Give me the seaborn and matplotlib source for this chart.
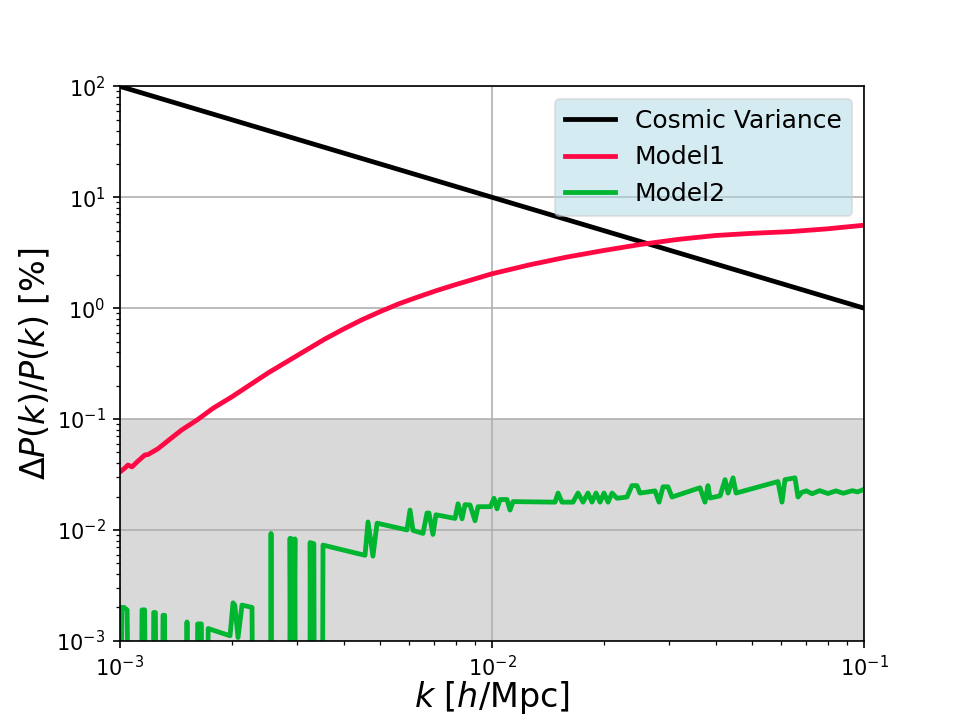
import matplotlib
matplotlib.use("Agg")
import matplotlib.pyplot as plt
import seaborn as sns

# cosmic variance: straight line in log-log
cv_k = [1e-3, 1e-1]
cv_vals = [100.0, 1.0]

# Model1
m1_k = [1.0e-3, 1.031e-3, 1.051e-3, 1.077e-3, 1.111e-3, 1.167e-3, 1.189e-3,
        1.265e-3, 1.379e-3, 1.467e-3, 1.611e-3, 1.778e-3, 1.995e-3, 2.239e-3,
        2.512e-3, 2.818e-3, 3.162e-3, 3.548e-3, 3.981e-3, 4.467e-3, 5.012e-3,
        5.623e-3, 6.310e-3, 7.079e-3, 7.943e-3, 8.913e-3, 1.0e-2, 1.259e-2,
        1.585e-2, 1.995e-2, 2.512e-2, 3.162e-2, 3.981e-2, 5.012e-2, 6.310e-2,
        7.943e-2, 1.0e-1]
m1_vals = [0.0333, 0.0362, 0.0385, 0.0370, 0.0410, 0.0475, 0.0478,
           0.0540, 0.0680, 0.0800, 0.098, 0.125, 0.158, 0.204,
           0.263, 0.331, 0.417, 0.525, 0.646, 0.785, 0.933,
           1.096, 1.259, 1.437, 1.622, 1.820, 2.042, 2.455,
           2.884, 3.311, 3.758, 4.169, 4.519, 4.732, 4.898,
           5.188, 5.598]

# Model2 (noisy, partly below the axis floor)
m2_k = [1.000e-3, 1.006e-3, 1.012e-3, 1.025e-3, 1.045e-3, 1.055e-3,
        1.140e-3, 1.146e-3, 1.165e-3, 1.172e-3,
        1.227e-3, 1.232e-3, 1.245e-3, 1.252e-3,
        1.300e-3, 1.305e-3, 1.318e-3, 1.322e-3,
        1.510e-3, 1.514e-3, 1.520e-3,
        1.610e-3, 1.617e-3, 1.655e-3, 1.662e-3,
        1.720e-3, 1.726e-3, 1.976e-3, 2.013e-3, 2.035e-3, 2.076e-3, 2.128e-3,
        2.264e-3, 2.275e-3,
        2.540e-3, 2.547e-3, 2.555e-3,
        2.860e-3, 2.865e-3, 2.885e-3, 2.900e-3, 2.920e-3, 2.953e-3, 2.960e-3,
        3.240e-3, 3.245e-3, 3.270e-3, 3.290e-3, 3.320e-3, 3.330e-3,
        3.500e-3, 3.513e-3, 4.557e-3, 4.642e-3, 4.786e-3, 4.909e-3,
        5.908e-3, 6.020e-3, 6.132e-3, 6.523e-3, 6.687e-3, 6.770e-3, 6.939e-3,
        7.069e-3, 7.954e-3, 8.104e-3, 8.307e-3, 8.463e-3, 8.729e-3, 9.003e-3,
        9.172e-3, 9.90e-3, 1.0125e-2, 1.0315e-2, 1.051e-2, 1.097e-2, 1.118e-2,
        1.139e-2, 1.477e-2, 1.505e-2, 1.542e-2, 1.651e-2, 1.703e-2, 1.757e-2,
        1.811e-2, 1.857e-2, 1.904e-2, 1.952e-2, 2.000e-2, 2.051e-2, 2.102e-2,
        2.168e-2, 2.306e-2, 2.378e-2, 2.453e-2, 2.499e-2, 2.743e-2, 2.812e-2,
        2.883e-2, 2.972e-2, 3.047e-2, 3.623e-2, 3.737e-2, 3.807e-2, 3.855e-2,
        4.103e-2, 4.232e-2, 4.311e-2, 4.446e-2, 4.530e-2, 5.871e-2, 6.019e-2,
        6.131e-2, 6.523e-2, 6.646e-2, 6.80e-2, 7.0e-2, 7.25e-2, 7.6e-2,
        8.0e-2, 8.4e-2, 8.8e-2, 9.3e-2, 9.6e-2, 1.0e-1]
m2_vals = [0.0020, 0.0001, 0.0020, 0.0020, 0.0019, 0.0001,
           0.0001, 0.0019, 0.0019, 0.0001,
           0.0001, 0.0018, 0.0018, 0.0001,
           0.0001, 0.0017, 0.0017, 0.0001,
           0.0001, 0.00148, 0.0001,
           0.0001, 0.00142, 0.00142, 0.0001,
           0.0001, 0.00129, 0.00111, 0.0022, 0.0021, 0.00107, 0.0021,
           0.0020, 0.0001,
           0.0001, 0.0093, 0.0001,
           0.0001, 0.0084, 0.0001, 0.0083, 0.0001, 0.0083, 0.0001,
           0.0001, 0.0077, 0.0001, 0.0076, 0.0075, 0.0001,
           0.0001, 0.0073, 0.0059, 0.0118, 0.0058, 0.0115,
           0.0100, 0.0151, 0.0099, 0.0093, 0.0142, 0.0142, 0.0091,
           0.0137, 0.0127, 0.0172, 0.0126, 0.0169, 0.0168, 0.0121,
           0.0162, 0.0162, 0.0193, 0.0155, 0.0188, 0.0188, 0.0151,
           0.0180, 0.0178, 0.0215, 0.0178, 0.0178, 0.0215, 0.0178,
           0.0215, 0.0178, 0.0215, 0.0178, 0.0215, 0.0178, 0.0215,
           0.0193, 0.0198, 0.0251, 0.0251, 0.0215, 0.0225, 0.0178,
           0.0245, 0.0245, 0.0198, 0.0240, 0.0178, 0.0251, 0.0194,
           0.0203, 0.0284, 0.0215, 0.0295, 0.0215, 0.0273, 0.0178,
           0.0284, 0.0295, 0.0198, 0.0218, 0.0225, 0.0212, 0.0226,
           0.0213, 0.0225, 0.0214, 0.0226, 0.0220, 0.0232]

fig, ax = plt.subplots(figsize=(6.4, 4.8), dpi=150)

# shaded band below 10%
ax.axhspan(1e-3, 1e-1, color='#d9d9d9', zorder=0.2, lw=0)

sns.lineplot(x=cv_k, y=cv_vals, ax=ax, color='black', lw=2.3,
             label='Cosmic Variance', sort=False, estimator=None)
sns.lineplot(x=m1_k, y=m1_vals, ax=ax, color='#ff0844', lw=2.3,
             label='Model1', sort=False, estimator=None)
sns.lineplot(x=m2_k, y=m2_vals, ax=ax, color='#00b530', lw=2.3,
             label='Model2', sort=False, estimator=None)

ax.set_xscale('log')
ax.set_yscale('log')
ax.set_xlim(1e-3, 1e-1)
ax.set_ylim(1e-3, 1e2)
ax.grid(True, which='major', color='#b0b0b0', lw=0.8, zorder=0.5)
ax.set_axisbelow(True)

ax.set_xlabel(r'$k$ [$h$/Mpc]', fontsize=16, labelpad=-1)
ax.set_ylabel(r'$\Delta P(k)/P(k)$ [%]', fontsize=16, labelpad=2)

ax.legend(loc='upper right', fontsize=12, facecolor='lightblue', framealpha=0.5)

fig.savefig('out.png', dpi=150)
